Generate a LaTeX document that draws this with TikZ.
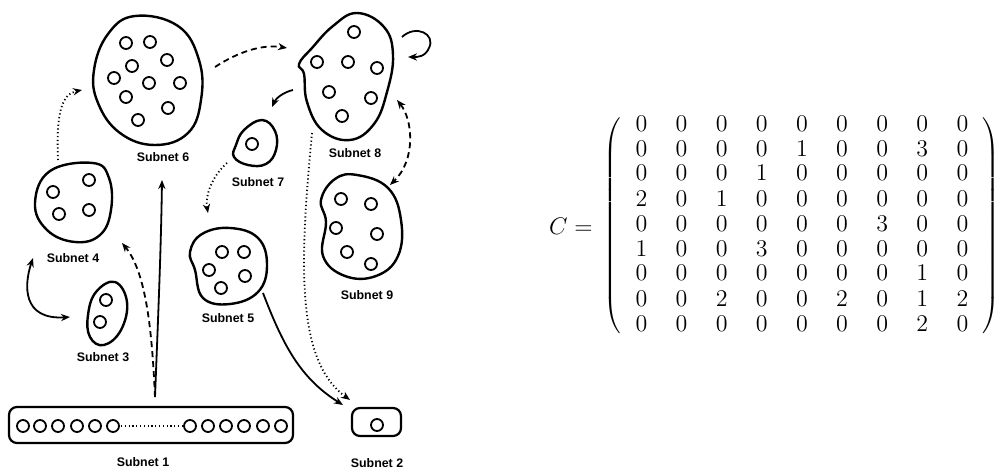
\documentclass[tikz,border=0pt]{standalone}
\usepackage{fontspec}
\newfontfamily\labfont{Liberation Sans}
\usetikzlibrary{arrows.meta}
\begin{document}
\begin{tikzpicture}[x=0.5pt,y=-0.5pt,
  blob/.style={line width=1.2pt, smooth cycle, tension=0.7},
  unit/.style={line width=0.9pt},
  lab/.style={font=\labfont\bfseries\fontsize{6.2}{7}\selectfont, inner sep=0pt},
  tip/.style={-{Stealth[length=4.5pt,width=3.6pt]}},
  tips/.style={{Stealth[length=4.5pt,width=3.6pt]}-{Stealth[length=4.5pt,width=3.6pt]}},
  solidc/.style={line width=0.9pt},
  dashc/.style={line width=0.9pt, dash pattern=on 3pt off 2pt},
  dotc/.style={line width=0.9pt, dash pattern=on 0.6pt off 1.3pt},
  box/.style={line width=1.1pt, rounded corners=4pt}]
\useasboundingbox (0,0) rectangle (999,470);

% ---- Subnet 6
\draw[blob] plot coordinates {(135,16) (178,26) (199,60) (201,100) (188,133) (155,145) (120,133) (98,103) (94,70) (108,34)};
\foreach \p in {(126,43),(150,42),(167,60),(132,66),(114,78),(149,83),(180,83),(126,97),(168,108),(138,120)}
  \draw[unit] \p circle[radius=6];
\node[lab] (l6) at (163,157) {Subnet 6};

% ---- Subnet 7
\draw[blob] plot coordinates {(262,120) (275,131) (276,150) (266,164) (248,165) (234,157) (236,145) (244,130)};
\draw[unit] (252,144) circle[radius=6];
\node[lab] (l7) at (258,182) {Subnet 7};

% ---- Subnet 8
\draw[blob] plot coordinates {(357,13) (384,27) (393,55) (387,92) (374,124) (350,140) (322,130) (307,102) (304,74) (299,64) (312,48) (333,26)};
\foreach \p in {(354,32),(317,62),(348,62),(377,68),(329,92),(371,98),(342,116)}
  \draw[unit] \p circle[radius=6];
\node[lab] (l8) at (355,153) {Subnet 8};

% ---- Subnet 9
\draw[blob] plot coordinates {(357,175) (388,188) (401,220) (398,256) (376,276) (345,276) (323,256) (326,222) (321,200) (335,179)};
\foreach \p in {(341,199),(371,204),(336,228),(377,234),(347,252),(371,264)}
  \draw[unit] \p circle[radius=6];
\node[lab] (l9) at (367,295) {Subnet 9};

% ---- Subnet 4
\draw[blob] plot coordinates {(50,171) (93,163) (109,178) (111,210) (100,235) (75,242) (47,230) (35,203)};
\foreach \p in {(53,192),(89,180),(59,214),(89,210)}
  \draw[unit] \p circle[radius=6];
\node[lab] (l4) at (73,258) {Subnet 4};

% ---- Subnet 3
\draw[blob] plot coordinates {(115,282) (127,302) (121,330) (104,345) (90,337) (88,315) (96,292)};
\foreach \p in {(106,300),(100,322)}
  \draw[unit] \p circle[radius=6];
\node[lab] (l3) at (103,357) {Subnet 3};

% ---- Subnet 5
\draw[blob] plot coordinates {(230,228) (258,238) (267,265) (258,292) (230,304) (203,298) (195,270) (190,252) (202,234)};
\foreach \p in {(222,252),(244,252),(209,270),(245,276),(221,288)}
  \draw[unit] \p circle[radius=6];
\node[lab] (l5) at (228,318) {Subnet 5};

% ---- Subnet 1
\draw[box] (9,407) rectangle (293,443);
\foreach \x in {23,40,58,77,95,113,190,208,226,244,263,281}
  \draw[unit] (\x,426) circle[radius=6];
\draw[dotc] (121,426) -- (182,426);
\node[lab] (l1) at (143,462) {Subnet 1};

% ---- Subnet 2
\draw[box] (352,408) rectangle (401,436);
\draw[unit] (377,425) circle[radius=6];
\node[lab] (l2) at (377,463) {Subnet 2};

% ---- connector end points
\coordinate (s1a) at (155,397);
\coordinate (t6a) at (162,180);
\coordinate (t4a) at (122,243);
\coordinate (s4b) at (58,160);
\coordinate (t6b) at (82,90);
\coordinate (s6c) at (215,67);
\coordinate (t8c) at (287,48);
\coordinate (s8d) at (293,90);
\coordinate (t7d) at (272,107);
\coordinate (s7e) at (227,163);
\coordinate (t5e) at (208,213);
\coordinate (s8f) at (402,37);
\coordinate (m8f) at (429,48);
\coordinate (t8f) at (408,57);
\coordinate (e8g) at (397,100);
\coordinate (e9g) at (390,185);
\coordinate (e4h) at (33,258);
\coordinate (e3h) at (70,317);
\coordinate (s5i) at (263,293);
\coordinate (t2i) at (343,405);
\coordinate (s8j) at (312,133);
\coordinate (t2j) at (350,400);

% ---- connectors
\draw[solidc,tip] (s1a) .. controls (158,320) and (161,250) .. (t6a);
\draw[dashc,tip] (s1a) .. controls (152,330) and (146,272) .. (t4a);
\draw[dotc,tip] (s4b) .. controls (56,112) and (62,94) .. (t6b);
\draw[dashc,tip] (s6c) .. controls (238,52) and (262,44) .. (t8c);
\draw[solidc,tip] (s8d) .. controls (284,92) and (276,98) .. (t7d);
\draw[dotc,tip] (s7e) .. controls (212,176) and (205,196) .. (t5e);
\draw[solidc] (s8f) .. controls (416,24) and (436,34) .. (m8f);
\draw[solidc,tip] (m8f) .. controls (425,57) and (418,57) .. (t8f);
\draw[dashc,tips] (e8g) .. controls (413,120) and (416,160) .. (e9g);
\draw[solidc,tips] (e4h) .. controls (24,285) and (22,320) .. (e3h);
\draw[solidc,tip] (s5i) .. controls (283,345) and (300,378) .. (t2i);
\draw[dotc,tip] (s8j) .. controls (300,260) and (295,360) .. (t2j);

% ---- matrix
\node[anchor=east, inner sep=0pt, font=\fontsize{11.6}{12.5}\selectfont] (ceq) at (593,226) {$C=$};
\node[inner sep=0pt, font=\fontsize{11.6}{12.5}\selectfont] (mat) at (802,226) {%
$\setlength{\arraycolsep}{7.1pt}\renewcommand{\arraystretch}{1}%
\left(\begin{array}{ccccccccc}
0&0&0&0&0&0&0&0&0\\
0&0&0&0&1&0&0&3&0\\
0&0&0&1&0&0&0&0&0\\
2&0&1&0&0&0&0&0&0\\
0&0&0&0&0&0&3&0&0\\
1&0&0&3&0&0&0&0&0\\
0&0&0&0&0&0&0&1&0\\
0&0&2&0&0&2&0&1&2\\
0&0&0&0&0&0&0&2&0
\end{array}\right)$};
\end{tikzpicture}
\end{document}
